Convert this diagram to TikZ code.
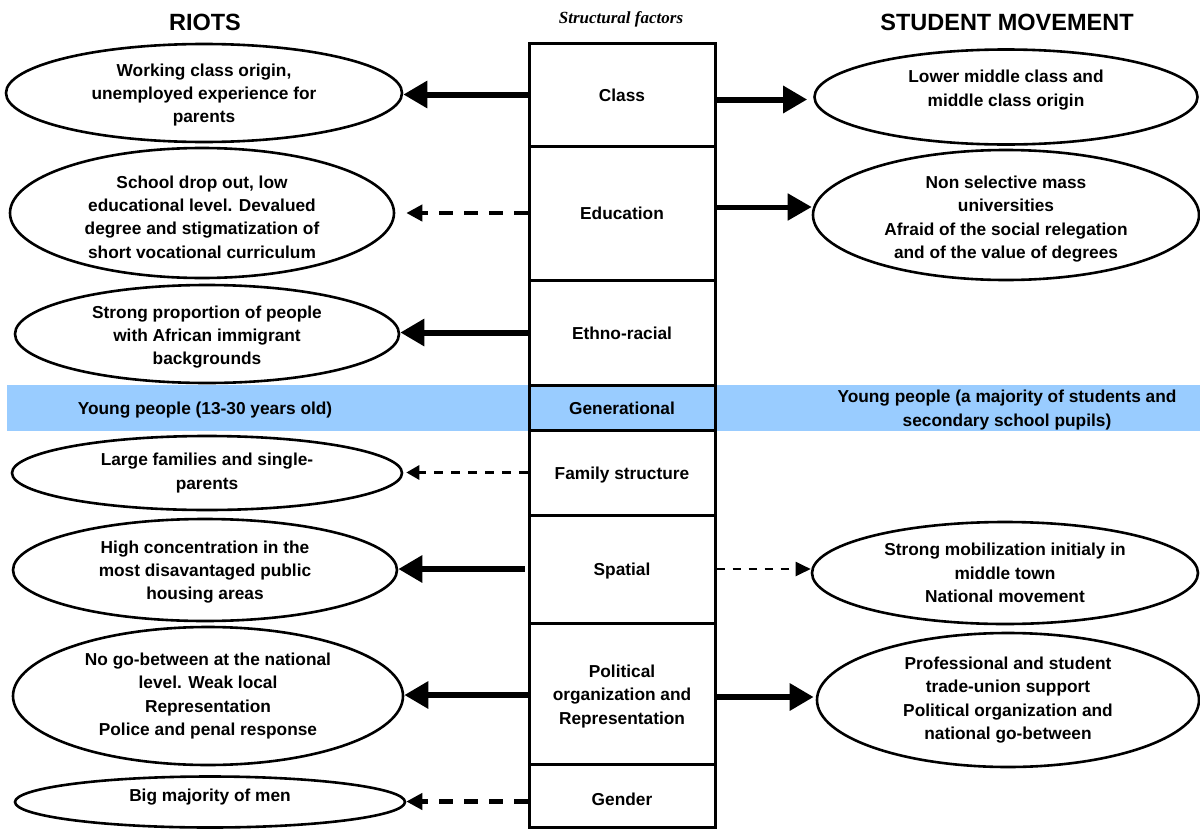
\documentclass[tikz,border=0pt]{standalone}
\usepackage{fontspec}
\setmainfont{Liberation Sans}
\newfontfamily\titleserif{Liberation Serif}
\usetikzlibrary{shapes.geometric,arrows.meta}
\definecolor{bandblue}{HTML}{99CCFF}
\newcommand\bodyfnt{\fontsize{17.3}{23.3}\selectfont\bfseries}
\newcommand\headfnt{\fontsize{23.5}{28}\selectfont\bfseries}
\begin{document}
\begin{tikzpicture}[x=1pt,y=-1pt,
  factor/.style={draw, line width=3pt, minimum width=186pt, inner sep=0pt},
  bubble/.style={ellipse, draw, line width=2.6pt, inner sep=0pt},
  txt/.style={align=center, font=\bodyfnt, inner sep=0pt},
  headtxt/.style={font=\headfnt, inner sep=0pt},
  strong/.style={line width=6pt, -{Triangle[length=24pt,width=26pt]}},
  dashthick/.style={line width=4.5pt, dash pattern=on 14pt off 11pt, -{Triangle[length=16pt,width=16pt]}},
  dashmid/.style={line width=3pt, dash pattern=on 9pt off 8pt, -{Triangle[length=13pt,width=14pt]}},
  dashthin/.style={line width=2pt, dash pattern=on 8pt off 8pt, -{Triangle[length=15pt,width=14pt]}}
]
\useasboundingbox (0,0) rectangle (1200,830);
\fill[white] (0,0) rectangle (1200,830);

% blue generational band
\fill[bandblue] (7,385) rectangle (1200,431);

% headings
\node[headtxt] (hriots) at (205,22) {RIOTS};
\node[headtxt] (hstud) at (1007,22) {STUDENT MOVEMENT};
\node[inner sep=0pt, font=\titleserif\fontsize{17}{19}\selectfont\bfseries\itshape] (hstruct) at (621,19) {Structural factors};

% central column of structural factors
\node[factor, minimum height=103pt] (class) at (622,94.5) {};
\node[factor, minimum height=134pt] (edu) at (622,213) {};
\node[factor, minimum height=105pt] (eth) at (622,332.5) {};
\node[factor, minimum height=45pt, fill=bandblue] (gen) at (622,407.5) {};
\node[factor, minimum height=85pt] (fam) at (622,472.5) {};
\node[factor, minimum height=108pt] (spa) at (622,569) {};
\node[factor, minimum height=141pt] (pol) at (622,693.5) {};
\node[factor, minimum height=63pt] (gend) at (622,795.5) {};

\node[txt] (classt) at ([yshift=-1pt]class.center) {Class};
\node[txt] (edut) at (edu.center) {Education};
\node[txt] (etht) at ([yshift=-1pt]eth.center) {Ethno-racial};
\node[txt] (gent) at ([yshift=-1pt]gen.center) {Generational};
\node[txt] (famt) at ([yshift=-3pt]fam.center) {Family structure};
\node[txt] (spat) at ([yshift=-2pt]spa.center) {Spatial};
\node[txt] (polt) at ([yshift=-3pt]pol.center) {Political\\organization and\\Representation};
\node[txt] (gendt) at ([yshift=-4pt]gend.center) {Gender};

% band texts
\node[txt] (bandl) at (205,410) {Young people (13-30 years old)};
\node[txt] (bandr) at (1007,410) {Young people (a majority of students and\\secondary school pupils)};

% riots ellipses
\node[bubble, minimum width=396pt, minimum height=98pt] (wl1) at (204,93) {};
\node[bubble, minimum width=384pt, minimum height=130pt] (wl2) at (202,213) {};
\node[bubble, minimum width=384pt, minimum height=98pt] (wl3) at (207,334) {};
\node[bubble, minimum width=390pt, minimum height=74pt] (wl4) at (207,473) {};
\node[bubble, minimum width=384pt, minimum height=102pt] (wl5) at (205,570) {};
\node[bubble, minimum width=390pt, minimum height=138pt] (wl6) at (208,696) {};
\node[bubble, minimum width=390pt, minimum height=51pt] (wl7) at (210,802) {};

\node[txt] (wl1t) at ([yshift=-2pt]wl1.center) {Working class origin,\\unemployed experience for\\parents};
\node[txt] (wl2t) at ([yshift=-4pt]wl2.center) {School drop out, low\\educational level. Devalued\\degree and stigmatization of\\short vocational curriculum};
\node[txt] (wl3t) at ([yshift=-3pt]wl3.center) {Strong proportion of people\\with African immigrant\\backgrounds};
\node[txt] (wl4t) at (wl4.center) {Large families and single-\\parents};
\node[txt] (wl5t) at ([yshift=-2pt]wl5.center) {High concentration in the\\most disavantaged public\\housing areas};
\node[txt] (wl6t) at (wl6.center) {No go-between at the national\\level. Weak local\\Representation\\Police and penal response};
\node[txt] (wl7t) at ([yshift=5pt]wl7.center) {Big majority of men};

% student movement ellipses
\node[bubble, minimum width=383pt, minimum height=95pt] (sr1) at (1006,97) {};
\node[bubble, minimum width=386pt, minimum height=130pt] (sr2) at (1006,215) {};
\node[bubble, minimum width=386pt, minimum height=102pt] (sr3) at (1005,573) {};
\node[bubble, minimum width=382pt, minimum height=134pt] (sr4) at (1008,700) {};

\node[txt] (sr1t) at ([yshift=7pt]sr1.center) {Lower middle class and\\middle class origin};
\node[txt] (sr2t) at ([yshift=-4pt]sr2.center) {Non selective mass\\universities\\Afraid of the social relegation\\and of the value of degrees};
\node[txt] (sr3t) at (sr3.center) {Strong mobilization initialy in\\middle town\\National movement};
\node[txt] (sr4t) at (sr4.center) {Professional and student\\trade-union support\\Political organization and\\national go-between};

% connectors
\draw[strong] (class.west) -- (class.west -| wl1.east);
\draw[strong, shorten >=6pt] ([yshift=-5pt]class.east) -- ([yshift=-5pt]class.east -| sr1.west);
\draw[dashthick, shorten >=11pt] (edu.west) -- (edu.west -| wl2.east);
\draw[strong, line width=5pt] ([yshift=6pt]edu.east) -- ([yshift=6pt]edu.east -| sr2.west);
\draw[strong] (eth.west) -- (eth.west -| wl3.east);
\draw[dashmid, shorten >=3pt] (fam.west) -- (fam.west -| wl4.east);
\draw[strong] ([xshift=-3pt]spa.west) -- (spa.west -| wl5.east);
\draw[dashthin] (spa.east) -- (spa.east -| sr3.west);
\draw[strong] ([yshift=-1.5pt]pol.west) -- ([yshift=-1.5pt]pol.west -| wl6.east);
\draw[strong, shorten >=2pt] ([yshift=-3.5pt]pol.east) -- ([yshift=-3.5pt]pol.east -| sr4.west);
\draw[dashthick] ([yshift=-6pt]gend.west) -- ([yshift=-6pt]gend.west -| wl7.east);
\end{tikzpicture}
\end{document}
